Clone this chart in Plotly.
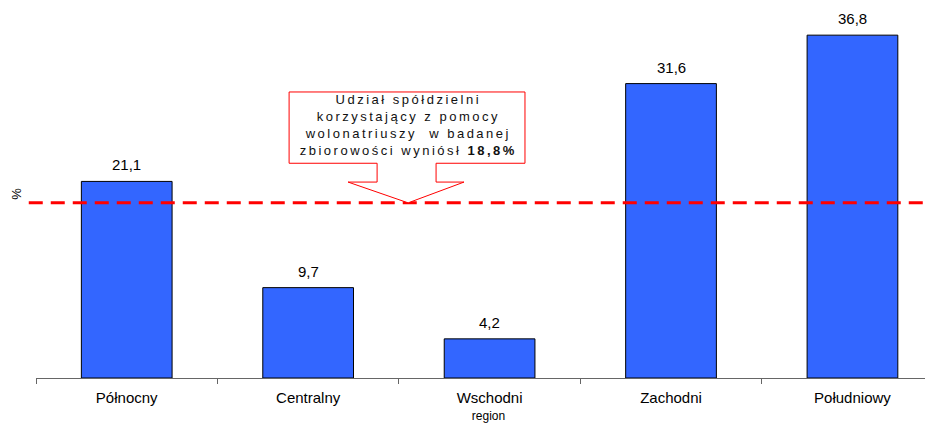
import plotly.graph_objects as go

categories = ["Północny", "Centralny", "Wschodni", "Zachodni", "Południowy"]
values = [21.1, 9.7, 4.2, 31.6, 36.8]
labels = ["21,1", "9,7", "4,2", "31,6", "36,8"]
avg_value = 18.8
callout_lines = ["Udział spółdzielni", "korzystający z pomocy",
                 "wolonatriuszy  w badanej", "zbiorowości wyniósł <b>18,8%</b>"]

X_MIN, X_MAX = -0.5, 4.488
Y_MAX = 39.5

def px(xu):
    return (xu - X_MIN) / (X_MAX - X_MIN)

fig = go.Figure()
fig.add_trace(go.Bar(
    x=categories, y=values, width=0.5,
    marker=dict(color="#3366FF", line=dict(color="#000000", width=1)),
    hoverinfo="skip",
))

for c, v, t in zip(categories, values, labels):
    fig.add_annotation(x=c, y=v, text=t, showarrow=False, yanchor="bottom",
                       yshift=6, font=dict(family="Liberation Sans, Arial", size=15, color="#000000"))

# average dashed line
fig.add_shape(type="line", xref="paper", yref="y", x0=-0.008, x1=1.0,
              y0=avg_value, y1=avg_value,
              line=dict(color="#FF0000", width=3, dash="14px,8px"))

# callout box with arrow
left, right, top, bottom = 0.895, 2.195, 30.7, 23.05
sl, sr, sy = 1.380, 1.705, 21.03
hl, hr, tip = 1.220, 1.859, 1.551
pts = [(left, top), (right, top), (right, bottom), (sr, bottom), (sr, sy), (hr, sy),
       (tip, avg_value), (hl, sy), (sl, sy), (sl, bottom), (left, bottom)]
path = "M " + " L ".join(f"{px(a):.5f},{b:.4f}" for a, b in pts) + " Z"
fig.add_shape(type="path", xref="paper", yref="y", path=path,
              fillcolor="#FFFFFF", line=dict(color="#FF0000", width=1))

fig.add_annotation(xref="paper", yref="y", x=px((left + right) / 2) + 0.002, y=(top + bottom) / 2 + 0.25,
                   text="<br>".join(callout_lines),
                   showarrow=False, align="center",
                   font=dict(family="Liberation Sans, Arial", size=13, color="#111111"))

fig.update_layout(
    width=933, height=423,
    margin=dict(l=28, r=0, t=2, b=53),
    paper_bgcolor="#FFFFFF", plot_bgcolor="#FFFFFF",
    showlegend=False, bargap=0.5,
    font=dict(family="Liberation Sans, Arial", color="#000000"),
    xaxis=dict(type="category", range=[X_MIN, X_MAX], showgrid=False,
               showline=True, linecolor="#666666", linewidth=1,
               ticks="outside", tickson="boundaries", ticklen=5, tickcolor="#666666",
               tickfont=dict(size=15), ticklabelstandoff=6,
               title=dict(text="region", font=dict(size=12), standoff=6)),
    yaxis=dict(range=[0, Y_MAX], showgrid=False, showline=False, showticklabels=False,
               ticks="", zeroline=False,
               title=dict(text="%", font=dict(size=13), standoff=10)),
)

post = """
var st = document.createElement('style');
st.textContent = 'g.annotation[data-index="5"] text { letter-spacing: 2.5px; }';
document.head.appendChild(st);
"""
fig.write_html("out.html", post_script=post)
